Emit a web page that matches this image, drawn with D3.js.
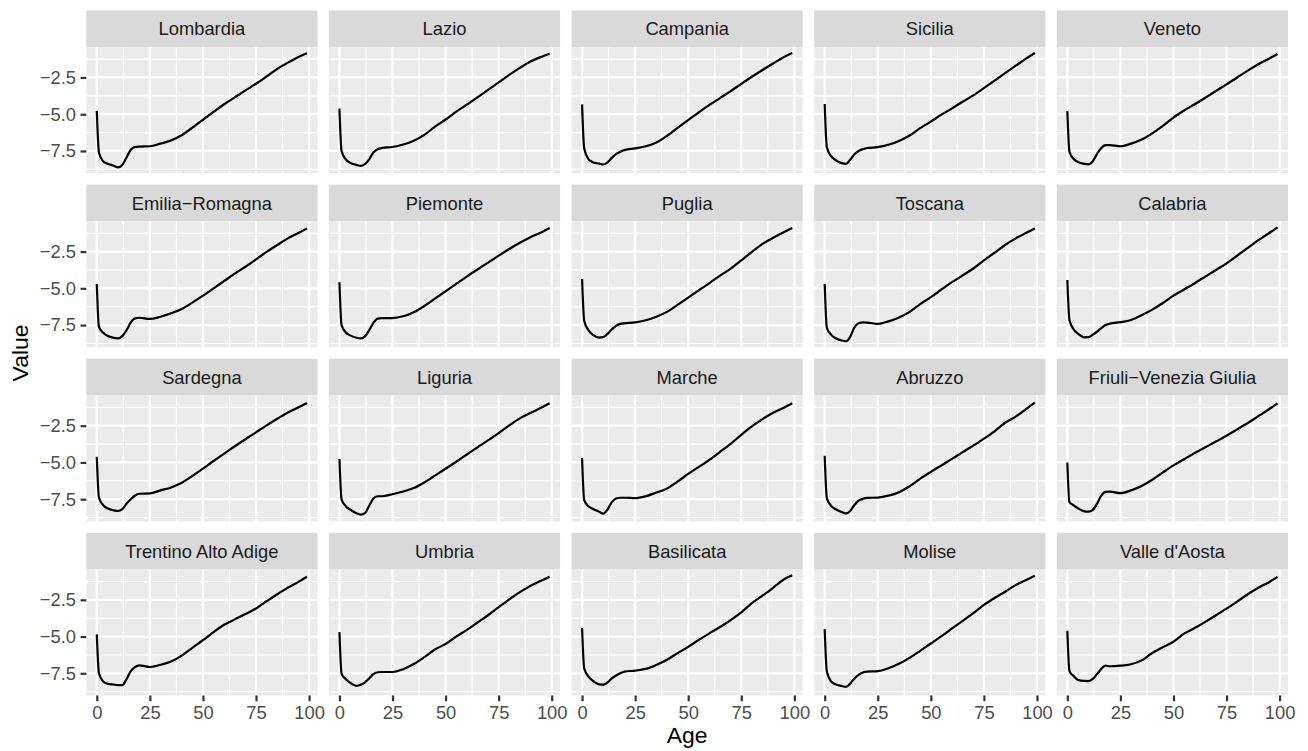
<!DOCTYPE html>
<html>
<head>
<meta charset="utf-8">
<script src="https://cdn.jsdelivr.net/npm/d3@7"></script>
<style>
  body { margin: 0; background: #fff; }
  text { font-family: "Liberation Sans", Arial, Helvetica, sans-serif; }
</style>
</head>
<body>
<svg id="chart" width="1308" height="751"></svg>
<script>
const ages = [0, 1, 3, 5, 8, 10, 12, 14, 16, 18, 20, 25, 30, 35, 40, 45, 50, 55, 60, 65, 70, 75, 80, 85, 90, 95, 99];

const regions = ["Lombardia", "Lazio", "Campania", "Sicilia", "Veneto",
                 "Emilia\u2212Romagna", "Piemonte", "Puglia", "Toscana", "Calabria",
                 "Sardegna", "Liguria", "Marche", "Abruzzo", "Friuli\u2212Venezia Giulia",
                 "Trentino Alto Adige", "Umbria", "Basilicata", "Molise", "Valle d'Aosta"];

const lombardia = [-4.77, -7.6, -8.2, -8.37, -8.5, -8.62, -8.45, -7.95, -7.42, -7.23, -7.2, -7.18, -7.0, -6.78, -6.43, -5.92, -5.38, -4.84, -4.32, -3.85, -3.38, -2.93, -2.43, -1.92, -1.49, -1.1, -0.85];
const lazio = [-4.61, -7.5, -8.07, -8.3, -8.45, -8.52, -8.4, -8.07, -7.6, -7.38, -7.3, -7.23, -7.06, -6.8, -6.4, -5.85, -5.36, -4.83, -4.35, -3.85, -3.34, -2.83, -2.32, -1.85, -1.42, -1.1, -0.88];
const campania = [-4.33, -7.32, -8.05, -8.26, -8.36, -8.42, -8.27, -7.97, -7.72, -7.55, -7.44, -7.32, -7.18, -6.92, -6.47, -5.93, -5.4, -4.87, -4.37, -3.9, -3.43, -2.93, -2.45, -1.99, -1.55, -1.12, -0.84];
const sicilia = [-4.3, -7.25, -7.85, -8.1, -8.33, -8.38, -8.1, -7.73, -7.5, -7.38, -7.3, -7.24, -7.08, -6.82, -6.45, -5.95, -5.5, -5.03, -4.6, -4.15, -3.72, -3.23, -2.72, -2.2, -1.7, -1.2, -0.83];
const veneto = [-4.77, -7.55, -8.05, -8.25, -8.38, -8.41, -8.2, -7.7, -7.3, -7.1, -7.1, -7.18, -7.0, -6.72, -6.3, -5.8, -5.23, -4.75, -4.32, -3.88, -3.42, -2.97, -2.5, -2.03, -1.6, -1.22, -0.9];
const emilia = [-4.7, -7.62, -8.02, -8.23, -8.37, -8.4, -8.25, -7.85, -7.32, -7.04, -7.0, -7.08, -6.93, -6.7, -6.4, -5.97, -5.5, -5.0, -4.5, -4.0, -3.53, -3.03, -2.52, -2.05, -1.6, -1.23, -0.93];
const piemonte = [-4.59, -7.5, -8.0, -8.2, -8.36, -8.41, -8.27, -7.85, -7.35, -7.06, -7.02, -7.02, -6.9, -6.62, -6.2, -5.7, -5.2, -4.7, -4.2, -3.72, -3.25, -2.78, -2.32, -1.9, -1.52, -1.2, -0.9];
const puglia = [-4.36, -7.2, -7.85, -8.15, -8.35, -8.32, -8.1, -7.8, -7.55, -7.42, -7.38, -7.32, -7.17, -6.93, -6.6, -6.12, -5.63, -5.13, -4.64, -4.13, -3.66, -3.1, -2.52, -1.98, -1.56, -1.18, -0.89];
const toscana = [-4.7, -7.68, -8.15, -8.38, -8.55, -8.6, -8.3, -7.66, -7.38, -7.32, -7.33, -7.42, -7.25, -6.98, -6.6, -6.07, -5.6, -5.08, -4.58, -4.12, -3.65, -3.1, -2.58, -2.05, -1.6, -1.22, -0.93];
const calabria = [-4.43, -7.16, -7.8, -8.08, -8.33, -8.32, -8.15, -7.95, -7.7, -7.5, -7.4, -7.3, -7.15, -6.83, -6.45, -6.0, -5.5, -5.08, -4.65, -4.2, -3.75, -3.3, -2.78, -2.25, -1.72, -1.25, -0.85];
const sardegna = [-4.61, -7.38, -7.9, -8.12, -8.26, -8.3, -8.18, -7.8, -7.5, -7.25, -7.13, -7.11, -6.9, -6.7, -6.38, -5.92, -5.42, -4.9, -4.4, -3.9, -3.42, -2.95, -2.48, -2.03, -1.6, -1.25, -0.95];
const liguria = [-4.77, -7.5, -7.98, -8.2, -8.45, -8.55, -8.45, -7.95, -7.45, -7.3, -7.3, -7.16, -6.98, -6.74, -6.36, -5.9, -5.43, -4.95, -4.46, -3.97, -3.5, -3.0, -2.48, -2.0, -1.63, -1.28, -0.97];
const marche = [-4.7, -7.57, -7.98, -8.15, -8.35, -8.48, -8.2, -7.7, -7.45, -7.4, -7.4, -7.43, -7.3, -7.05, -6.78, -6.3, -5.78, -5.3, -4.83, -4.28, -3.73, -3.12, -2.55, -2.05, -1.62, -1.28, -0.97];
const abruzzo = [-4.55, -7.43, -7.95, -8.17, -8.37, -8.47, -8.3, -7.89, -7.6, -7.47, -7.41, -7.39, -7.26, -7.02, -6.62, -6.1, -5.64, -5.2, -4.76, -4.3, -3.86, -3.38, -2.88, -2.3, -1.88, -1.35, -0.93];
const friuli = [-5.0, -7.7, -7.92, -8.12, -8.33, -8.35, -8.23, -7.8, -7.25, -7.0, -6.98, -7.09, -6.9, -6.6, -6.18, -5.68, -5.2, -4.78, -4.36, -3.97, -3.58, -3.18, -2.75, -2.32, -1.85, -1.38, -0.98];
const trentino = [-4.85, -7.5, -8.05, -8.2, -8.27, -8.3, -8.3, -7.9, -7.35, -7.08, -6.96, -7.07, -6.92, -6.7, -6.3, -5.77, -5.25, -4.7, -4.2, -3.83, -3.47, -3.09, -2.6, -2.12, -1.67, -1.28, -0.93];
const umbria = [-4.7, -7.52, -7.9, -8.13, -8.35, -8.28, -8.12, -7.85, -7.55, -7.43, -7.41, -7.41, -7.22, -6.87, -6.4, -5.88, -5.5, -5.0, -4.55, -4.05, -3.55, -3.0, -2.47, -1.98, -1.55, -1.2, -0.93];
const basilicata = [-4.42, -7.16, -7.72, -8.0, -8.25, -8.27, -8.12, -7.85, -7.65, -7.5, -7.38, -7.32, -7.2, -6.93, -6.58, -6.13, -5.7, -5.23, -4.78, -4.35, -3.88, -3.35, -2.73, -2.22, -1.68, -1.12, -0.83];
const molise = [-4.5, -7.38, -8.05, -8.24, -8.36, -8.42, -8.2, -7.85, -7.6, -7.45, -7.38, -7.35, -7.15, -6.85, -6.45, -5.97, -5.47, -4.97, -4.45, -3.93, -3.4, -2.85, -2.38, -1.95, -1.5, -1.15, -0.86];
const valle = [-4.6, -7.35, -7.7, -7.95, -8.02, -8.03, -7.88, -7.55, -7.2, -6.98, -7.02, -6.98, -6.88, -6.62, -6.12, -5.72, -5.35, -4.8, -4.42, -4.0, -3.55, -3.1, -2.62, -2.12, -1.68, -1.3, -0.94];

const series = [lombardia, lazio, campania, sicilia, veneto,
                emilia, piemonte, puglia, toscana, calabria,
                sardegna, liguria, marche, abruzzo, friuli,
                trentino, umbria, basilicata, molise, valle];

const xMajor = [0, 25, 50, 75, 100];
const xMinor = [12.5, 37.5, 62.5, 87.5];
const yMajor = [-7.5, -5.0, -2.5];
const yMinor = [-8.75, -6.25, -3.75, -1.25];

// layout (ggplot at ~150 dpi)
const pt = 150 / 72;
const ncol = 5, nrow = 4;
const plotL = 86.3, plotR = 1288, plotT = 10.5, plotB = 695.5;
const gap = 5.5 * pt;
const stripH = 36.7;
const panelW = (plotR - plotL - gap * (ncol - 1)) / ncol;
const panelH = (plotB - plotT - gap * (nrow - 1)) / nrow - stripH;
const fs = 8.8 * pt;

// ggplot's default 5% expansion
function expand(ext) {
    var d = (ext[1] - ext[0]) * 0.05;
    return [ext[0] - d, ext[1] + d];
}

const x = d3.scaleLinear().domain(expand(d3.extent(ages))).range([0, panelW]);
const y = d3.scaleLinear().domain(expand(d3.extent(series.flat()))).range([panelH, 0]);

const line = d3.line()
    .x(function(d, i) { return x(ages[i]); })
    .y(function(d) { return y(d); })
    .curve(d3.curveMonotoneX);

const svg = d3.select("#chart");

function styleAxis(a) {
    a.select(".domain").remove();
    a.selectAll(".tick line").attr("stroke", "#333333").attr("stroke-width", 2.2);
    a.selectAll(".tick text")
        .attr("fill", "#4D4D4D")
        .style("font-size", fs + "px")
        .style("font-family", "'Liberation Sans', Arial, sans-serif");
}

regions.forEach(function(name, i) {
    var col = i % ncol, row = Math.floor(i / ncol);
    var gx = plotL + col * (panelW + gap);
    var gy = plotT + row * (stripH + panelH + gap);

    // strip
    svg.append("rect")
        .attr("x", gx).attr("y", gy)
        .attr("width", panelW).attr("height", stripH)
        .attr("fill", "#D9D9D9");
    svg.append("text")
        .attr("x", gx + panelW / 2)
        .attr("y", gy + stripH / 2)
        .attr("dy", "0.36em")
        .attr("text-anchor", "middle")
        .attr("fill", "#1A1A1A")
        .style("font-size", fs + "px")
        .text(name);

    var g = svg.append("g")
        .attr("transform", "translate(" + gx + "," + (gy + stripH) + ")");

    g.append("rect")
        .attr("width", panelW).attr("height", panelH)
        .attr("fill", "#EBEBEB");

    // minor grid
    g.selectAll(".ymin").data(yMinor).enter().append("line")
        .attr("x1", 0).attr("x2", panelW)
        .attr("y1", function(d) { return y(d); }).attr("y2", function(d) { return y(d); })
        .attr("stroke", "#fff").attr("stroke-width", 1.1);
    g.selectAll(".xmin").data(xMinor).enter().append("line")
        .attr("y1", 0).attr("y2", panelH)
        .attr("x1", function(d) { return x(d); }).attr("x2", function(d) { return x(d); })
        .attr("stroke", "#fff").attr("stroke-width", 1.1);

    // major grid
    g.selectAll(".ymaj").data(yMajor).enter().append("line")
        .attr("x1", 0).attr("x2", panelW)
        .attr("y1", function(d) { return y(d); }).attr("y2", function(d) { return y(d); })
        .attr("stroke", "#fff").attr("stroke-width", 2.2);
    g.selectAll(".xmaj").data(xMajor).enter().append("line")
        .attr("y1", 0).attr("y2", panelH)
        .attr("x1", function(d) { return x(d); }).attr("x2", function(d) { return x(d); })
        .attr("stroke", "#fff").attr("stroke-width", 2.2);

    g.append("path")
        .datum(series[i])
        .attr("fill", "none")
        .attr("stroke", "#000")
        .attr("stroke-width", 2.2)
        .attr("stroke-linejoin", "round")
        .attr("d", line);

    if (col === 0) {
        var ya = g.append("g")
            .call(d3.axisLeft(y).tickValues(yMajor).tickFormat(d3.format(".1f"))
                .tickSize(2.75 * pt).tickPadding(2.2 * pt));
        styleAxis(ya);
    }
    if (row === nrow - 1) {
        var xa = g.append("g")
            .attr("transform", "translate(0," + panelH + ")")
            .call(d3.axisBottom(x).tickValues(xMajor).tickFormat(d3.format("d"))
                .tickSize(2.75 * pt).tickPadding(2.2 * pt));
        styleAxis(xa);
    }
});

// axis titles
svg.append("text")
    .attr("x", (plotL + plotR) / 2)
    .attr("y", 743)
    .attr("text-anchor", "middle")
    .style("font-size", (11 * pt) + "px")
    .text("Age");

svg.append("text")
    .attr("transform", "translate(28," + ((plotT + plotB) / 2) + ") rotate(-90)")
    .attr("text-anchor", "middle")
    .style("font-size", (11 * pt) + "px")
    .text("Value");
</script>
</body>
</html>
